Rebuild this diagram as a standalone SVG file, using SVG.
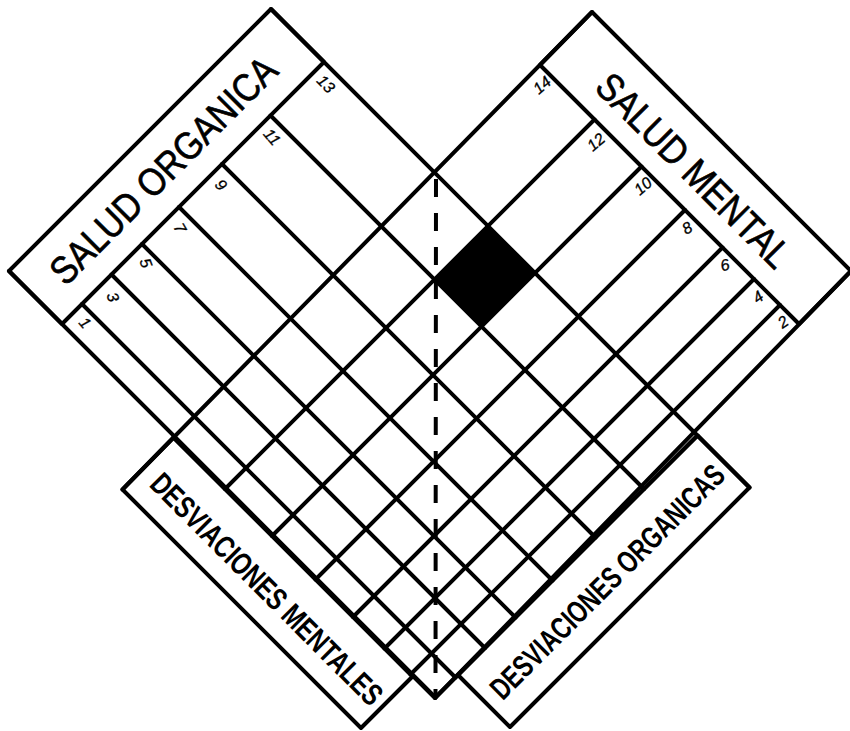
<svg xmlns="http://www.w3.org/2000/svg" width="850" height="731" viewBox="0 0 850 731">
<style>
.ln{stroke:#000;stroke-width:4;fill:none;stroke-linecap:round;stroke-linejoin:round}
.box{stroke:#000;stroke-width:4;fill:#fff;stroke-linejoin:round}
.dash{stroke:#000;stroke-width:4;fill:none;stroke-dasharray:18 16}
.t{font-family:"Liberation Sans","DejaVu Sans",sans-serif;fill:#000}
.big{font-size:39px;stroke:#000;stroke-width:0.7}
.foot{font-size:31px;font-weight:bold}
.num{font-size:16px;font-style:italic;stroke:#000;stroke-width:0.3}
</style>
<rect width="850" height="731" fill="#fff"/>

<g id="cell-13-12">
<polygon points="434.5,279.5 488,226 535,273 481.5,326.5" fill="#000"/>
</g>

<g id="salud-organica">
<polygon class="box" points="9,271 271,9 324,62 62,324"/>
<text class="t big" transform="translate(163,170) rotate(-45)" x="0" y="14" text-anchor="middle" textLength="303" lengthAdjust="spacingAndGlyphs">SALUD ORGANICA</text>
<g class="t num" text-anchor="middle" dominant-baseline="central">
<text transform="translate(85,323) rotate(50)">1</text>
<text transform="translate(113,297) rotate(70)">3</text>
<text transform="translate(146,263) rotate(70)">5</text>
<text transform="translate(180,228) rotate(60)">7</text>
<text transform="translate(221,185) rotate(50)">9</text>
<text transform="translate(272,137) rotate(50)">11</text>
<text transform="translate(326,84) rotate(45)">13</text>
</g>
</g>

<g id="salud-mental">
<polygon class="box" points="592,12 851,271 799,324 540,65"/>
<text class="t big" transform="translate(694,170) rotate(45)" x="0" y="14" text-anchor="middle" textLength="257" lengthAdjust="spacingAndGlyphs">SALUD MENTAL</text>
<g class="t num" text-anchor="middle" dominant-baseline="central">
<text transform="translate(542,85) rotate(-40)">14</text>
<text transform="translate(596,142) rotate(-40)">12</text>
<text transform="translate(643,186) rotate(-40)">10</text>
<text transform="translate(687,228) rotate(-30)">8</text>
<text transform="translate(725,265) rotate(-15)">6</text>
<text transform="translate(758,297) rotate(-35)">4</text>
<text transform="translate(783,322) rotate(-35)">2</text>
</g>
</g>

<g id="desviaciones-organicas">
<polygon class="box" points="458,675 697.5,435.5 749.5,487.5 510,727"/>
<text class="t foot" transform="translate(607,581.5) rotate(-45)" x="0" y="11" text-anchor="middle" textLength="317" lengthAdjust="spacingAndGlyphs">DESVIACIONES ORGANICAS</text>
</g>

<g id="desviaciones-mentales">
<polygon class="box" points="173.5,437.5 412.5,676.5 361,728 122.5,489.5"/>
<text class="t foot" transform="translate(267,589) rotate(45)" x="0" y="11" text-anchor="middle" textLength="314" lengthAdjust="spacingAndGlyphs">DESVIACIONES MENTALES</text>
</g>

<g id="connectors">
<g id="bands-organica" class="ln">
<line x1="9" y1="271" x2="435.5" y2="697.5"/>
<line x1="82" y1="304" x2="455.5" y2="677.5"/>
<line x1="111.5" y1="274.5" x2="485" y2="648"/>
<line x1="142" y1="244" x2="515.5" y2="617.5"/>
<line x1="179" y1="207" x2="552.5" y2="580.5"/>
<line x1="222" y1="164" x2="595.5" y2="537.5"/>
<line x1="270.5" y1="115.5" x2="644" y2="489"/>
<line x1="271" y1="9" x2="749.5" y2="487.5"/>
<line x1="435.5" y1="697.5" x2="697.5" y2="435.5"/>
</g>
<g id="bands-mental" class="ln">
<line x1="592" y1="12" x2="122.5" y2="489.5"/>
<line x1="594.5" y1="119.5" x2="225" y2="489"/>
<line x1="641.5" y1="166.5" x2="272" y2="536"/>
<line x1="685" y1="210" x2="315.5" y2="579.5"/>
<line x1="722.5" y1="247.5" x2="353" y2="617"/>
<line x1="754" y1="279" x2="384.5" y2="648.5"/>
<line x1="780" y1="305" x2="410.5" y2="674.5"/>
<line x1="851" y1="271" x2="435" y2="698"/>
<line x1="173.5" y1="437.5" x2="435" y2="698"/>
</g>
<line id="axis" class="dash" x1="436" y1="179" x2="435.5" y2="697"/>
</g>
</svg>
